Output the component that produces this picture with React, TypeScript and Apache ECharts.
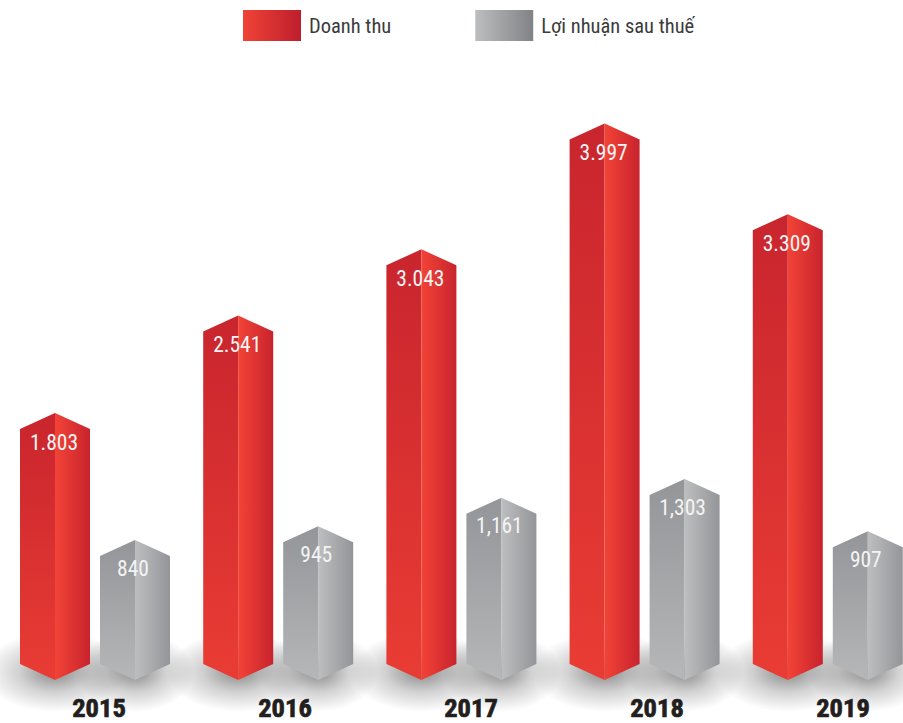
import React, { useEffect, useRef } from "react";
import * as echarts from "echarts";

const years = ["2015", "2016", "2017", "2018", "2019"];
const revenue = [1803, 2541, 3043, 3997, 3309];
const profit = [840, 945, 1161, 1303, 907];
const revenueLabels = ["1.803", "2.541", "3.043", "3.997", "3.309"];
const profitLabels = ["840", "945", "1,161", "1,303", "907"];
const revenueName = "Doanh thu";
const profitName = "Lợi nhuận sau thuế";

const NARROW = '"Roboto Condensed", Roboto, sans-serif';
const HALF = 35;
const ROOF = 16;
const linear = (x2: number, y2: number, a: string, b: string) => ({
  type: "linear", x: 0, y: 0, x2, y2,
  colorStops: [{ offset: 0, color: a }, { offset: 1, color: b }],
});

function prism(offset: number, labels: string[], left: any, right: any, labelDx: number, labelDy: number) {
  return (params: any, api: any) => {
    const tip = api.coord([api.value(0), api.value(1)]);
    const base = api.coord([api.value(0), 0]);
    const cx = tip[0] + offset;
    const top = tip[1];
    const floor = base[1] + 29;
    return {
      type: "group",
      children: [
        {
          type: "polygon",
          shape: { points: [[cx - HALF, top + ROOF], [cx, top], [cx, floor], [cx - HALF, floor - ROOF]] },
          style: { fill: left },
        },
        {
          type: "polygon",
          shape: { points: [[cx, top], [cx + HALF, top + ROOF], [cx + HALF, floor - ROOF], [cx, floor]] },
          style: { fill: right },
        },
        {
          type: "text",
          style: {
            text: labels[params.dataIndex], x: cx + labelDx, y: top + labelDy,
            fill: "#f4f4f4", font: `21.5px ${NARROW}`, textAlign: "center", textVerticalAlign: "middle",
          },
        },
      ],
    };
  };
}

function floorShadow(params: any, api: any) {
  const base = api.coord([api.value(0), 0]);
  const fill = {
    type: "radial", x: 0.5, y: 0.5, r: 0.5,
    colorStops: [
      { offset: 0, color: "rgba(0,0,0,0.46)" },
      { offset: 0.5, color: "rgba(0,0,0,0.18)" },
      { offset: 1, color: "rgba(0,0,0,0)" },
    ],
  };
  const spot = (dx: number, rx: number) => ({
    type: "ellipse",
    shape: { cx: base[0] + dx, cy: base[1] + 21, rx, ry: 40 },
    style: { fill },
  });
  return { type: "group", children: [spot(-40, 72), spot(40, 60)] };
}

export default function App() {
  const ref = useRef<HTMLDivElement>(null);
  useEffect(() => {
    const chart = echarts.init(ref.current!, undefined, { renderer: "svg" });
    chart.setOption({
      animation: false,
      backgroundColor: "#ffffff",
      legend: {
        left: 243, top: 10, itemWidth: 58, itemHeight: 31, itemGap: 84, padding: 0,
        textStyle: { fontFamily: NARROW, fontSize: 20.5, color: "#3b3b3b", padding: [2, 0, 0, 3] },
        data: [
          { name: revenueName, icon: "rect", itemStyle: { color: linear(1, 0, "#f04336", "#be1e2d") } },
          { name: profitName, icon: "rect", itemStyle: { color: linear(1, 0, "#bcbec0", "#808285") } },
        ],
      },
      grid: [
        { left: 3.4, width: 916, top: 123, bottom: 72, outerBoundsMode: "none" },
        { left: 6, width: 930, top: 123, bottom: 33, outerBoundsMode: "none" },
      ],
      xAxis: [
        { type: "category", data: years, gridIndex: 0, show: false },
        {
          type: "category", data: years, gridIndex: 1,
          axisLine: { show: false }, axisTick: { show: false },
          axisLabel: {
            margin: 3, fontFamily: NARROW, fontWeight: "bold", fontSize: 26.5, lineHeight: 28, color: "#231f20",
            textBorderColor: "#231f20", textBorderWidth: 0.7, interval: 0,
          },
        },
      ],
      yAxis: [
        { type: "value", min: 0, max: 4000, gridIndex: 0, show: false },
        { type: "value", min: 0, max: 4000, gridIndex: 1, show: false },
      ],
      series: [
        {
          type: "custom", name: "shadow", z: 1, silent: true, clip: false,
          renderItem: floorShadow,
          data: years.map((_, i) => [i, 0]),
          encode: { x: 0, y: 1 },
        },
        {
          type: "custom", name: revenueName, z: 2, clip: false,
          renderItem: prism(-40, revenueLabels, linear(0, 1, "#c9252e", "#e93c34"), linear(1, 0, "#f24336", "#c8232e"), -1, 29),
          data: revenue.map((v, i) => [i, v]),
          encode: { x: 0, y: 1 },
        },
        {
          type: "custom", name: profitName, z: 2, clip: false,
          renderItem: prism(40, profitLabels, linear(0, 1, "#939598", "#b5b7b9"), linear(1, 0, "#bcbec0", "#939598"), -2, 28),
          data: profit.map((v, i) => [i, v]),
          encode: { x: 0, y: 1 },
        },
      ],
    });
    return () => chart.dispose();
  }, []);
  return <div ref={ref} style={{ position: "fixed", left: 0, top: 0, width: 903, height: 723 }} />;
}
